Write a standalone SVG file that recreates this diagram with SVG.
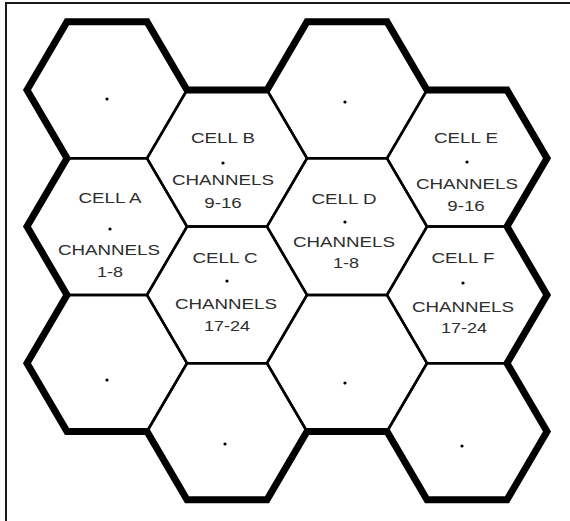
<svg xmlns="http://www.w3.org/2000/svg" width="570" height="521" viewBox="0 0 570 521">
<defs>
<style>
.bg{fill:#ffffff}
.frame{fill:none;stroke:#1a1a1a;stroke-width:2}
.hex{fill:none;stroke:#000;stroke-width:2.5;stroke-linejoin:miter}
.outline{fill:none;stroke:#000;stroke-width:7;stroke-linejoin:miter;stroke-miterlimit:4}
.dot{fill:#000}
.lbl{font-family:"Liberation Sans",Arial,sans-serif;font-size:15px;fill:#2e2e2e;text-anchor:middle}
</style>
</defs>
<rect class="bg" x="0" y="0" width="570" height="521"/>
<path class="frame" d="M6,521 V3 H570"/>

<g id="hex-c1-r1">
<polygon class="hex" points="27,90 67,21.7 147,21.7 187,90 147,158.3 67,158.3"/>
<circle class="dot" cx="107" cy="99" r="1.6"/>
</g>
<g id="cell-a">
<polygon class="hex" points="27,226.6 67,158.3 147,158.3 187,226.6 147,294.9 67,294.9"/>
<circle class="dot" cx="110" cy="229" r="1.6"/>
<text class="lbl" transform="matrix(1.25 0 0 1 110 203)">CELL A</text>
<text class="lbl" transform="matrix(1.25 0 0 1 109 255)">CHANNELS</text>
<text class="lbl" transform="matrix(1.2 0 0 1 110 277)">1-8</text>
</g>
<g id="hex-c1-r3">
<polygon class="hex" points="27,363.2 67,294.9 147,294.9 187,363.2 147,431.5 67,431.5"/>
<circle class="dot" cx="107" cy="380" r="1.6"/>
</g>

<g id="cell-b">
<polygon class="hex" points="147,158.3 187,90 267,90 307,158.3 267,226.6 187,226.6"/>
<circle class="dot" cx="223" cy="163" r="1.6"/>
<text class="lbl" transform="matrix(1.25 0 0 1 223 143)">CELL B</text>
<text class="lbl" transform="matrix(1.25 0 0 1 223 185)">CHANNELS</text>
<text class="lbl" transform="matrix(1.25 0 0 1 223 208)">9-16</text>
</g>
<g id="cell-c">
<polygon class="hex" points="147,294.9 187,226.6 267,226.6 307,294.9 267,363.2 187,363.2"/>
<circle class="dot" cx="227" cy="281" r="1.6"/>
<text class="lbl" transform="matrix(1.25 0 0 1 225 263)">CELL C</text>
<text class="lbl" transform="matrix(1.25 0 0 1 226 309)">CHANNELS</text>
<text class="lbl" transform="matrix(1.2 0 0 1 227 331)">17-24</text>
</g>
<g id="hex-c2-r3">
<polygon class="hex" points="147,431.5 187,363.2 267,363.2 307,431.5 267,499.8 187,499.8"/>
<circle class="dot" cx="225" cy="444" r="1.6"/>
</g>

<g id="hex-c3-r1">
<polygon class="hex" points="267,90 307,21.7 387,21.7 427,90 387,158.3 307,158.3"/>
<circle class="dot" cx="345" cy="102" r="1.6"/>
</g>
<g id="cell-d">
<polygon class="hex" points="267,226.6 307,158.3 387,158.3 427,226.6 387,294.9 307,294.9"/>
<circle class="dot" cx="345" cy="222" r="1.6"/>
<text class="lbl" transform="matrix(1.25 0 0 1 344 204)">CELL D</text>
<text class="lbl" transform="matrix(1.25 0 0 1 344 247)">CHANNELS</text>
<text class="lbl" transform="matrix(1.2 0 0 1 346 268)">1-8</text>
</g>
<g id="hex-c3-r3">
<polygon class="hex" points="267,363.2 307,294.9 387,294.9 427,363.2 387,431.5 307,431.5"/>
<circle class="dot" cx="345" cy="383" r="1.6"/>
</g>

<g id="cell-e">
<polygon class="hex" points="387,158.3 427,90 507,90 547,158.3 507,226.6 427,226.6"/>
<circle class="dot" cx="467" cy="162" r="1.6"/>
<text class="lbl" transform="matrix(1.25 0 0 1 466 143)">CELL E</text>
<text class="lbl" transform="matrix(1.25 0 0 1 467 189)">CHANNELS</text>
<text class="lbl" transform="matrix(1.25 0 0 1 466 211)">9-16</text>
</g>
<g id="cell-f">
<polygon class="hex" points="387,294.9 427,226.6 507,226.6 547,294.9 507,363.2 427,363.2"/>
<circle class="dot" cx="463" cy="283" r="1.6"/>
<text class="lbl" transform="matrix(1.25 0 0 1 463 263)">CELL F</text>
<text class="lbl" transform="matrix(1.25 0 0 1 463 312)">CHANNELS</text>
<text class="lbl" transform="matrix(1.2 0 0 1 464 333)">17-24</text>
</g>
<g id="hex-c4-r3">
<polygon class="hex" points="387,431.5 427,363.2 507,363.2 547,431.5 507,499.8 427,499.8"/>
<circle class="dot" cx="462" cy="446" r="1.6"/>
</g>

<g id="connectors">
<path class="outline" d="M27,90 L67,21.7 L147,21.7 L187,90 L267,90 L307,21.7 L387,21.7 L427,90 L507,90 L547,158.3 L507,226.6 L547,294.9 L507,363.2 L547,431.5 L507,499.8 L427,499.8 L387,431.5 L307,431.5 L267,499.8 L187,499.8 L147,431.5 L67,431.5 L27,363.2 L67,294.9 L27,226.6 L67,158.3 Z"/>
</g>
</svg>
